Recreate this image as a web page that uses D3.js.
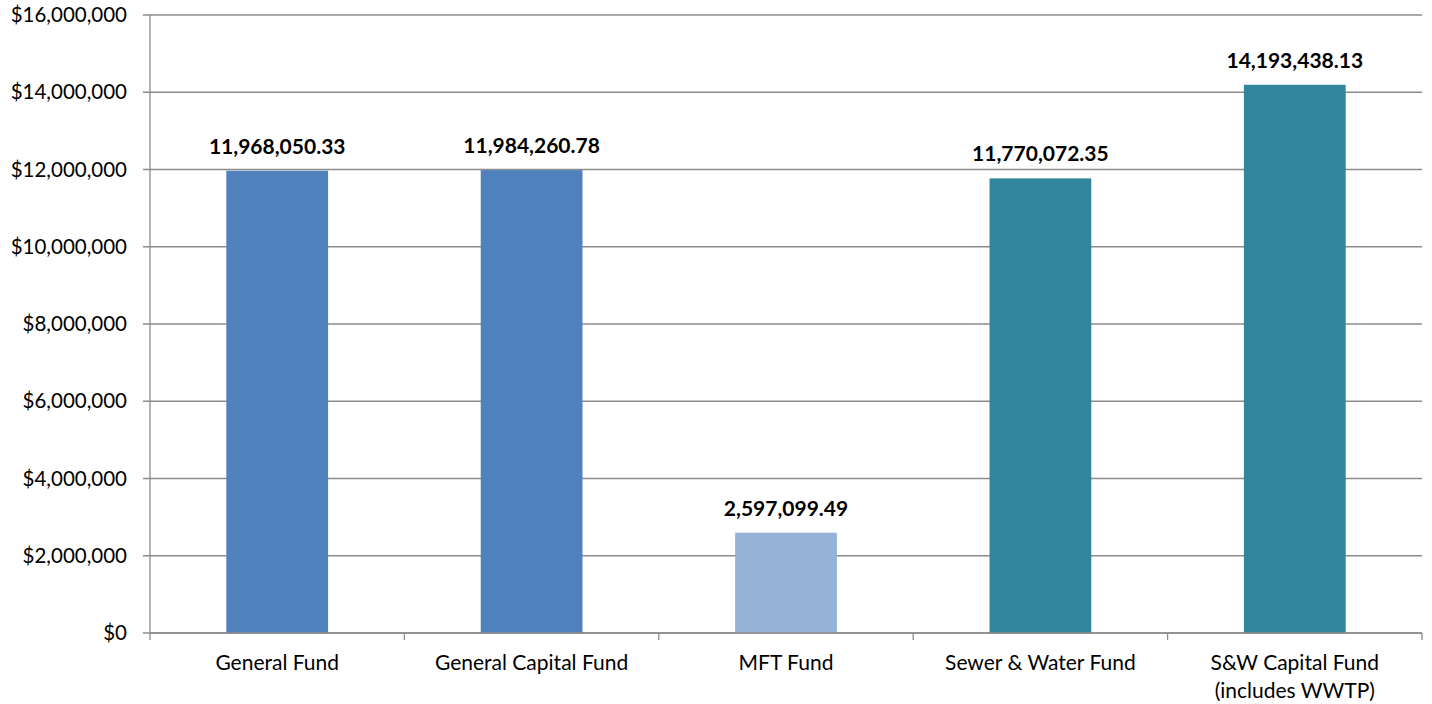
<!DOCTYPE html>
<html>
<head>
<meta charset="utf-8">
<script src="https://cdn.jsdelivr.net/npm/d3@7"></script>
<style>
  body { margin: 0; background: #fff; }
  svg { font-family: Lato, "Open Sans", sans-serif; }
</style>
</head>
<body>
<div class="chart"></div>
<script>
const funds = ['General Fund', 'General Capital Fund', 'MFT Fund', 'Sewer & Water Fund', 'S&W Capital Fund\n(includes WWTP)'];
const amounts = [11968050.33, 11984260.78, 2597099.49, 11770072.35, 14193438.13];
const barColors = ['#4F81BD', '#4F81BD', '#95B3D7', '#31859C', '#31859C'];
const yTicks = [0, 2000000, 4000000, 6000000, 8000000, 10000000, 12000000, 14000000, 16000000];

const width = 1432, height = 704;
const plotLeft = 150, plotRight = 1422, plotTop = 15, plotBottom = 633;

let svg = d3.select('.chart')
    .append('svg')
    .attr('width', width)
    .attr('height', height);

let x_scale = d3.scaleBand()
    .domain(funds)
    .range([plotLeft, plotRight])
    .paddingInner(0.6)
    .paddingOuter(0.3);
let y_scale = d3.scaleLinear()
    .domain([0, 16000000])
    .range([plotBottom, plotTop]);

// gridlines
svg.append('g')
    .selectAll('line')
    .data(yTicks)
    .join('line')
    .attr('x1', plotLeft - 7)
    .attr('x2', plotRight)
    .attr('y1', d => y_scale(d))
    .attr('y2', d => y_scale(d))
    .attr('stroke', '#8c8c8c')
    .attr('stroke-width', 1.3);

// y axis labels
svg.append('g')
    .selectAll('text')
    .data(yTicks)
    .join('text')
    .attr('x', plotLeft - 23)
    .attr('y', d => y_scale(d))
    .attr('dy', '0.35em')
    .attr('text-anchor', 'end')
    .attr('font-size', 20.5)
    .attr('fill', '#000')
    .text(d => '$' + d3.format(',')(d));

// y axis line
svg.append('line')
    .attr('x1', plotLeft).attr('x2', plotLeft)
    .attr('y1', plotTop).attr('y2', plotBottom)
    .attr('stroke', '#8c8c8c')
    .attr('stroke-width', 1.3);

// bars
svg.append('g')
    .selectAll('rect')
    .data(funds)
    .join('rect')
    .attr('x', d => x_scale(d))
    .attr('y', (d, i) => y_scale(amounts[i]))
    .attr('width', x_scale.bandwidth())
    .attr('height', (d, i) => y_scale(0) - y_scale(amounts[i]))
    .attr('fill', (d, i) => barColors[i]);

// value labels
svg.append('g')
    .selectAll('text')
    .data(funds)
    .join('text')
    .attr('x', d => x_scale(d) + x_scale.bandwidth() / 2)
    .attr('y', (d, i) => y_scale(amounts[i]) - 17)
    .attr('text-anchor', 'middle')
    .attr('font-size', 21)
    .attr('font-weight', 'bold')
    .attr('fill', '#000')
    .text((d, i) => d3.format(',.2f')(amounts[i]));

// x axis line and ticks at category boundaries
svg.append('line')
    .attr('x1', plotLeft).attr('x2', plotRight)
    .attr('y1', plotBottom).attr('y2', plotBottom)
    .attr('stroke', '#8c8c8c')
    .attr('stroke-width', 1.3);
let boundary = i => i === funds.length ? plotRight : x_scale(funds[i]) - x_scale.step() * 0.3;
svg.append('g')
    .selectAll('line')
    .data(d3.range(funds.length + 1))
    .join('line')
    .attr('x1', boundary)
    .attr('x2', boundary)
    .attr('y1', plotBottom)
    .attr('y2', plotBottom + 7)
    .attr('stroke', '#8c8c8c')
    .attr('stroke-width', 1.3);

// category labels
svg.append('g')
    .selectAll('text')
    .data(funds)
    .join('text')
    .attr('x', d => x_scale(d) + x_scale.bandwidth() / 2)
    .attr('y', 670)
    .attr('text-anchor', 'middle')
    .attr('font-size', 21)
    .attr('fill', '#000')
    .selectAll('tspan')
    .data(d => d.split('\n'))
    .join('tspan')
    .attr('x', function () { return d3.select(this.parentNode).attr('x'); })
    .attr('dy', (d, i) => i === 0 ? 0 : 28)
    .text(d => d);
</script>
</body>
</html>
